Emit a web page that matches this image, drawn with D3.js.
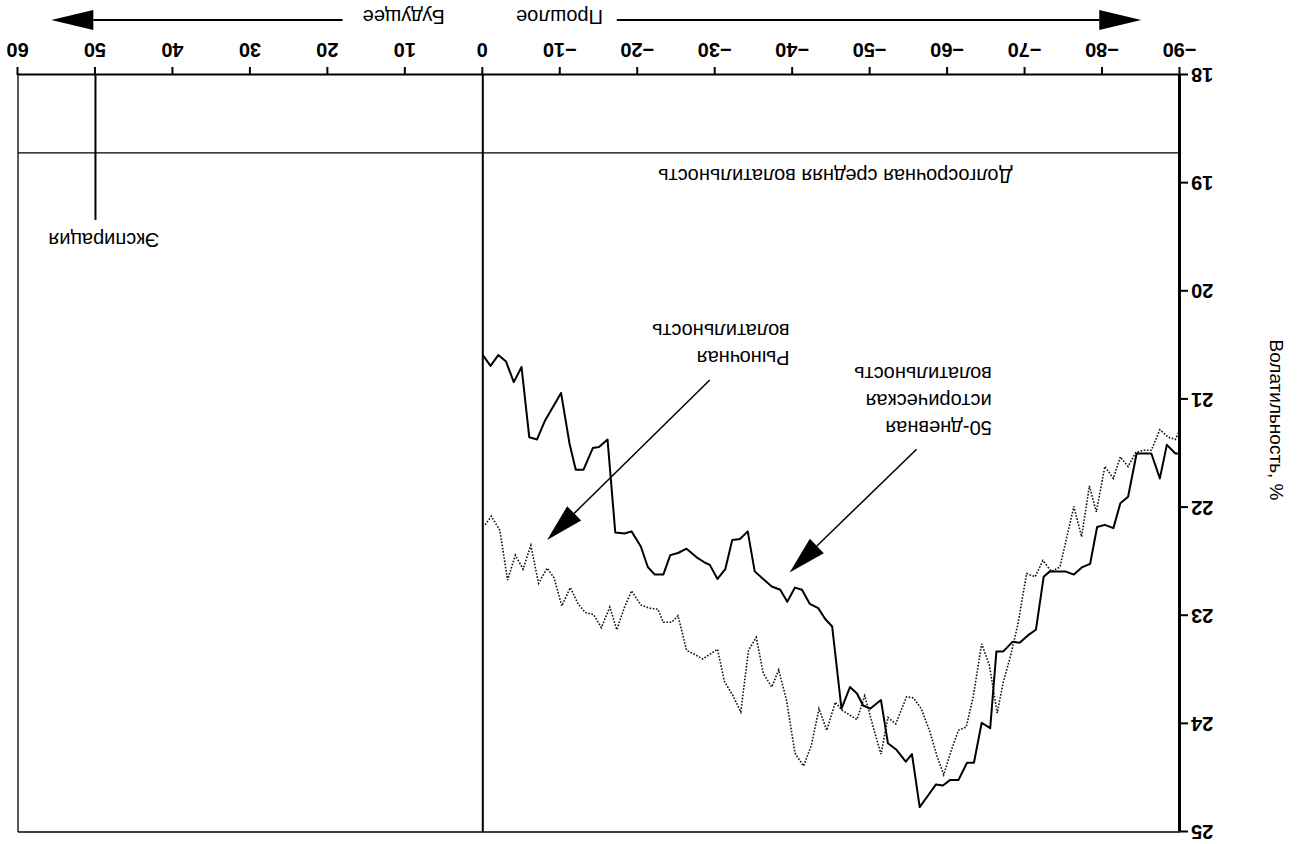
<!DOCTYPE html>
<html>
<head>
<meta charset="utf-8">
<script src="https://cdn.jsdelivr.net/npm/d3@7"></script>
<style>
  body { margin: 0; background: #fff; }
  svg { display: block; }
</style>
</head>
<body>
<script>
var width = 1297;
var height = 844;

// x axis: days relative to today (negative = past, positive = future)
var xTicks = [-90, -80, -70, -60, -50, -40, -30, -20, -10, 0, 10, 20, 30, 40, 50, 60];
var yTicks = [18, 19, 20, 21, 22, 23, 24, 25];

// 50-day historical volatility (solid)
var histDays = [0, -1, -2, -3, -4, -5, -6, -7, -8, -9.3, -10.1, -11.2, -12, -13, -14.2, -15, -16.1, -17.1, -18.3, -19.2,
  -20.4, -21.3, -22.2, -23.3, -24.2, -25.2, -26.3, -27.6, -28.7, -29.3, -30.3, -31.3, -32.2, -33.2, -34.2, -35.1, -36.2,
  -37.3, -38.4, -39.3, -40.3, -41.2, -42.2, -43.3, -44.2, -45.1, -46.3, -47.4, -48.3, -49.1, -50, -51.4, -52.3, -53.4,
  -54.6, -55.4, -56.4, -57.5, -58.5, -59.4, -60.3, -61.4, -62.5, -63.4, -64.4, -65.5, -66.3, -67.2, -68.4, -69.3, -70.4,
  -71.4, -72.4, -73.2, -74.2, -75.2, -76.3, -77.4, -78.4, -79.3, -80.3, -81.4, -82.3, -83.3, -84.4, -85.3, -86.3, -87.4,
  -88.3, -89.4, -90];
var histVol = [20.59, 20.69, 20.59, 20.65, 20.84, 20.70, 21.35, 21.37, 21.20, 21.04, 20.94, 21.41, 21.65, 21.65, 21.45, 21.44, 21.37, 22.23, 22.24, 22.22,
  22.36, 22.55, 22.62, 22.62, 22.44, 22.42, 22.38, 22.46, 22.51, 22.53, 22.66, 22.57, 22.30, 22.29, 22.22, 22.59, 22.66,
  22.73, 22.76, 22.87, 22.74, 22.76, 22.89, 22.93, 23.03, 23.10, 23.86, 23.66, 23.72, 23.83, 23.86, 23.78, 24.18, 24.24,
  24.35, 24.28, 24.77, 24.66, 24.56, 24.57, 24.52, 24.52, 24.36, 24.36, 23.99, 24.04, 23.33, 23.33, 23.24, 23.25, 23.18,
  23.13, 22.64, 22.59, 22.59, 22.59, 22.62, 22.55, 22.52, 22.18, 22.16, 22.19, 21.96, 21.90, 21.50, 21.50, 21.50, 21.73,
  21.42, 21.50, 21.50];

// market (implied) volatility (dotted)
var mktDays = [-0.3, -1.1, -2.2, -3.2, -4.2, -5.2, -6.2, -7.2, -8.3, -9.2, -10.2, -11.3, -12.3, -13.2, -14.3, -15.3, -16.4, -17.3,
  -18.3, -19.2, -20.4, -21.5, -22.6, -23.3, -24.4, -25.2, -26.3, -27.4, -28.4, -30.3, -31.2, -32.3, -33.3, -34.3, -35.3,
  -36.2, -37.3, -38.2, -39.2, -40.3, -41.4, -42.4, -43.4, -44.4, -45.5, -46.3, -47.4, -48.3, -49.3, -50.4, -51.4, -52.3,
  -53.3, -54.7, -55.6, -56.6, -57.7, -58.6, -59.5, -60.5, -61.4, -62.4, -63.3, -64.4, -65.4, -66.4, -67.2, -68.1, -69.1,
  -70.2, -71.3, -72.3, -73.4, -74.5, -76.3, -77.3, -78.3, -79.2, -80.3, -81.4, -82.3, -83.3, -84.3, -85.3, -86.3, -87.4,
  -88.5, -89.4, -90];
var mktVol = [22.16, 22.08, 22.21, 22.67, 22.44, 22.57, 22.35, 22.70, 22.56, 22.65, 22.91, 22.74, 22.89, 22.97, 22.99, 23.11, 22.92, 23.13,
  22.92, 22.77, 22.90, 22.93, 22.94, 23.06, 23.06, 23.00, 23.32, 23.36, 23.40, 23.31, 23.61, 23.74, 23.89, 23.32, 23.20,
  23.53, 23.66, 23.50, 23.78, 24.27, 24.39, 24.20, 23.86, 24.06, 23.80, 23.87, 23.92, 23.96, 23.74, 24.03, 24.28, 23.94,
  24.00, 23.75, 23.76, 23.86, 24.07, 24.29, 24.47, 24.24, 24.06, 24.03, 23.75, 23.26, 23.46, 23.90, 23.61, 23.38, 23.07,
  22.61, 22.64, 22.49, 22.59, 22.55, 21.99, 22.27, 21.80, 22.04, 21.62, 21.73, 21.53, 21.62, 21.49, 21.47, 21.47, 21.28,
  21.35, 21.37, 21.28];

var longTermAvg = 18.72;
var expiryDay = 50;
var expiryTop = 19.34;

var margin = {top: 12, right: 18, bottom: 75, left: 117};

var svg = d3.select("body").append("svg")
  .attr("width", width)
  .attr("height", height);

// the source picture is printed upside down, so draw normally and turn it 180 degrees
var g = svg.append("g")
  .attr("transform", "rotate(180 " + width / 2 + " " + height / 2 + ")");

var x = d3.scaleLinear().domain([-90, 60]).range([margin.left, width - margin.right]);
var y = d3.scaleLinear().domain([18, 25]).range([height - margin.bottom, margin.top]);

var fontFam = "'Liberation Sans', Arial, sans-serif";

// frame
g.append("line").attr("x1", x(-90)).attr("x2", x(60)).attr("y1", y(25)).attr("y2", y(25))
  .attr("stroke", "#000").attr("stroke-width", 1.3);
g.append("line").attr("x1", x(60)).attr("x2", x(60)).attr("y1", y(18)).attr("y2", y(25))
  .attr("stroke", "#000").attr("stroke-width", 1.3);

// today line
g.append("line").attr("x1", x(0)).attr("x2", x(0)).attr("y1", y(18)).attr("y2", y(25))
  .attr("stroke", "#000").attr("stroke-width", 2);

// long-term average
g.append("line").attr("x1", x(-90)).attr("x2", x(60)).attr("y1", y(longTermAvg)).attr("y2", y(longTermAvg))
  .attr("stroke", "#000").attr("stroke-width", 1.2);

// expiration
g.append("line").attr("x1", x(expiryDay)).attr("x2", x(expiryDay)).attr("y1", y(18)).attr("y2", y(expiryTop))
  .attr("stroke", "#000").attr("stroke-width", 2);

// axes
var xAxis = g.append("g")
  .attr("transform", "translate(0," + y(18) + ")")
  .call(d3.axisBottom(x).tickValues(xTicks).tickSize(8).tickPadding(10).tickSizeOuter(0));
var yAxis = g.append("g")
  .attr("transform", "translate(" + x(-90) + ",0)")
  .call(d3.axisLeft(y).tickValues(yTicks).tickFormat(d3.format("d")).tickSize(8).tickPadding(3).tickSizeOuter(0));

xAxis.select(".domain").attr("stroke-width", 2);
yAxis.select(".domain").attr("stroke-width", 3);
[xAxis, yAxis].forEach(function(a) {
  a.selectAll(".tick line").attr("stroke-width", 2);
  a.selectAll("text").attr("font-family", fontFam).attr("font-size", 20).attr("font-weight", "bold").attr("fill", "#000");
});

g.append("text")
  .attr("transform", "translate(22," + (height / 2 + 2) + ") rotate(-90)")
  .attr("text-anchor", "middle").attr("dominant-baseline", "middle")
  .attr("font-family", fontFam).attr("font-size", 19)
  .text("Волатильность, %");

// series
var histData = histDays.map(function(d, i) { return [d, histVol[i]]; });
var mktData = mktDays.map(function(d, i) { return [d, mktVol[i]]; });
var line = d3.line().x(function(d) { return x(d[0]); }).y(function(d) { return y(d[1]); });

g.append("path").datum(mktData).attr("d", line)
  .attr("fill", "none").attr("stroke", "#111").attr("stroke-width", 1.6)
  .attr("stroke-dasharray", "1.6,1.6");
g.append("path").datum(histData).attr("d", line)
  .attr("fill", "none").attr("stroke", "#000").attr("stroke-width", 2)
  .attr("stroke-linejoin", "round");

// arrows
function arrow(x1, y1, x2, y2, headLen, headHalf, sw) {
  var ang = Math.atan2(y2 - y1, x2 - x1);
  var bx = x2 - headLen * Math.cos(ang), by = y2 - headLen * Math.sin(ang);
  g.append("line").attr("x1", x1).attr("y1", y1).attr("x2", bx).attr("y2", by)
    .attr("stroke", "#000").attr("stroke-width", sw);
  var px = -Math.sin(ang) * headHalf, py = Math.cos(ang) * headHalf;
  g.append("polygon")
    .attr("points", [[x2, y2], [bx + px, by + py], [bx - px, by - py]].map(function(p) { return p.join(","); }).join(" "))
    .attr("fill", "#000");
}

arrow(x(-29.3), y(20.82), x(-8.3), y(22.30), 38, 10, 1.5);
arrow(x(-56), y(21.46), x(-39.6), y(22.60), 38, 10, 1.5);

// past / future arrows under the axis
var arrowY = y(18) + 55;
arrow(x(-17.3), arrowY, x(-85), arrowY, 42, 10, 2);
arrow(x(18.1), arrowY, x(55.7), arrowY, 42, 10, 2);

function label(tx, ty, lines, anchor) {
  var t = g.append("text")
    .attr("x", tx).attr("y", ty)
    .attr("text-anchor", anchor)
    .attr("font-family", fontFam).attr("font-size", 20).attr("fill", "#000");
  lines.forEach(function(s, i) {
    t.append("tspan").attr("x", tx).attr("dy", i === 0 ? "0.35em" : 27).text(s);
  });
}

label(x(-15.5), arrowY + 3, ["Прошлое"], "start");
label(x(4.9), arrowY + 3, ["Будущее"], "start");
label(x(-45.5), y(18.93), ["Долгосрочная средняя волатильность"], "middle");
label(x(48.9), y(19.53), ["Экспирация"], "middle");
label(x(-39.6), y(20.62), ["Рыночная", "волатильность"], "start");
label(x(-65.7), y(21.26), ["50-дневная", "историческая", "волатильность"], "start");
</script>
</body>
</html>
